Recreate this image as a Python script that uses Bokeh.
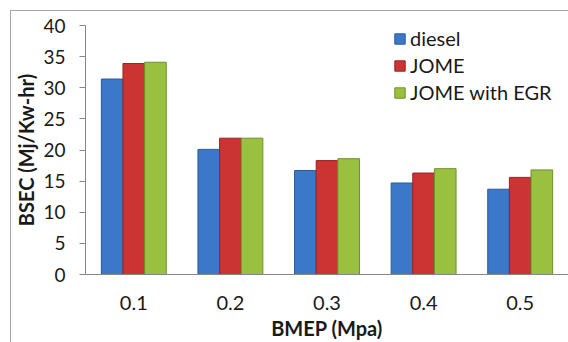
from bokeh.plotting import figure
from bokeh.layouts import column
from bokeh.models import FactorRange, ColumnDataSource, Legend, LegendItem, Range1d, FixedTicker
from bokeh.transform import dodge
from bokeh.embed import file_html
from bokeh.resources import INLINE

categories = ["0.1", "0.2", "0.3", "0.4", "0.5"]
diesel = [31.4, 20.1, 16.7, 14.7, 13.7]
jome = [33.9, 21.9, 18.3, 16.3, 15.6]
jome_egr = [34.1, 21.9, 18.6, 17.0, 16.8]
series_names = ["diesel", "JOME", "JOME with EGR"]
series_colors = ["#3b78c9", "#cc3434", "#99c13f"]
series_edges = ["#2a5a99", "#962424", "#6f8f2a"]
y_ticks = [0, 5, 10, 15, 20, 25, 30, 35, 40]

FONT = "Lato"

source = ColumnDataSource(dict(cat=categories, diesel=diesel, jome=jome, jome_egr=jome_egr))

p = figure(width=557, height=331,
           x_range=FactorRange(*categories, range_padding=0),
           y_range=Range1d(0, 40),
           output_backend="svg", toolbar_location=None,
           min_border_left=72, min_border_top=14, min_border_bottom=64, min_border_right=0)

p.outline_line_color = None
p.xgrid.grid_line_color = None
p.ygrid.grid_line_color = None
p.background_fill_color = "white"
p.border_fill_color = "white"

w = 0.224
cols = ["diesel", "jome", "jome_egr"]
offsets = [-w, 0, w]
renderers = []
for col, off, c, e in zip(cols, offsets, series_colors, series_edges):
    r = p.vbar(x=dodge("cat", off, range=p.x_range), top=col, width=w, bottom=0,
               source=source, fill_color=c, line_color=e, line_width=1)
    renderers.append(r)

# y axis
p.yaxis.ticker = FixedTicker(ticks=y_ticks)
p.yaxis.minor_tick_line_color = None
p.yaxis.major_tick_in = 0
p.yaxis.major_tick_out = 6
p.yaxis.major_tick_line_color = "#868686"
p.yaxis.axis_line_color = "#868686"
p.yaxis.major_label_text_font = FONT
p.yaxis.major_label_text_font_size = "19px"
p.yaxis.major_label_text_color = "#1a1a1a"
p.yaxis.major_label_standoff = 14
p.yaxis.axis_label = "BSEC (Mj/Kw-hr)"
p.yaxis.axis_label_text_font = FONT
p.yaxis.axis_label_text_font_size = "20px"
p.yaxis.axis_label_text_font_style = "bold"
p.yaxis.axis_label_text_color = "#1a1a1a"
p.yaxis.axis_label_standoff = 2

# x axis
p.xaxis.major_tick_line_color = None
p.xaxis.major_tick_out = 0
p.xaxis.major_tick_in = 0
p.xaxis.axis_line_color = "#868686"
p.xaxis.major_label_text_font = FONT
p.xaxis.major_label_text_font_size = "20px"
p.xaxis.major_label_text_color = "#1a1a1a"
p.xaxis.major_label_standoff = 21
p.xaxis.axis_label = "BMEP (Mpa)"
p.xaxis.axis_label_text_font = FONT
p.xaxis.axis_label_text_font_size = "20px"
p.xaxis.axis_label_text_font_style = "bold"
p.xaxis.axis_label_text_color = "#1a1a1a"
p.xaxis.axis_label_standoff = 3

legend = Legend(items=[LegendItem(label=n, renderers=[r]) for n, r in zip(series_names, renderers)],
                location=(308, 170))
legend.glyph_width = 13
legend.glyph_height = 13
legend.label_height = 20
legend.spacing = 3
legend.padding = 0
legend.margin = 0
legend.label_standoff = 4
legend.border_line_alpha = 0
legend.background_fill_alpha = 0
legend.label_text_font = FONT
legend.label_text_font_size = "20px"
legend.label_text_color = "#1a1a1a"
p.add_layout(legend, "center")

layout = column(p, margin=(10, 0, 0, 10),
                styles={"border-left": "1px solid #a6a6a6", "border-top": "1px solid #a6a6a6",
                        "background-color": "white"})

open("out.html", "w").write(file_html(layout, INLINE))
